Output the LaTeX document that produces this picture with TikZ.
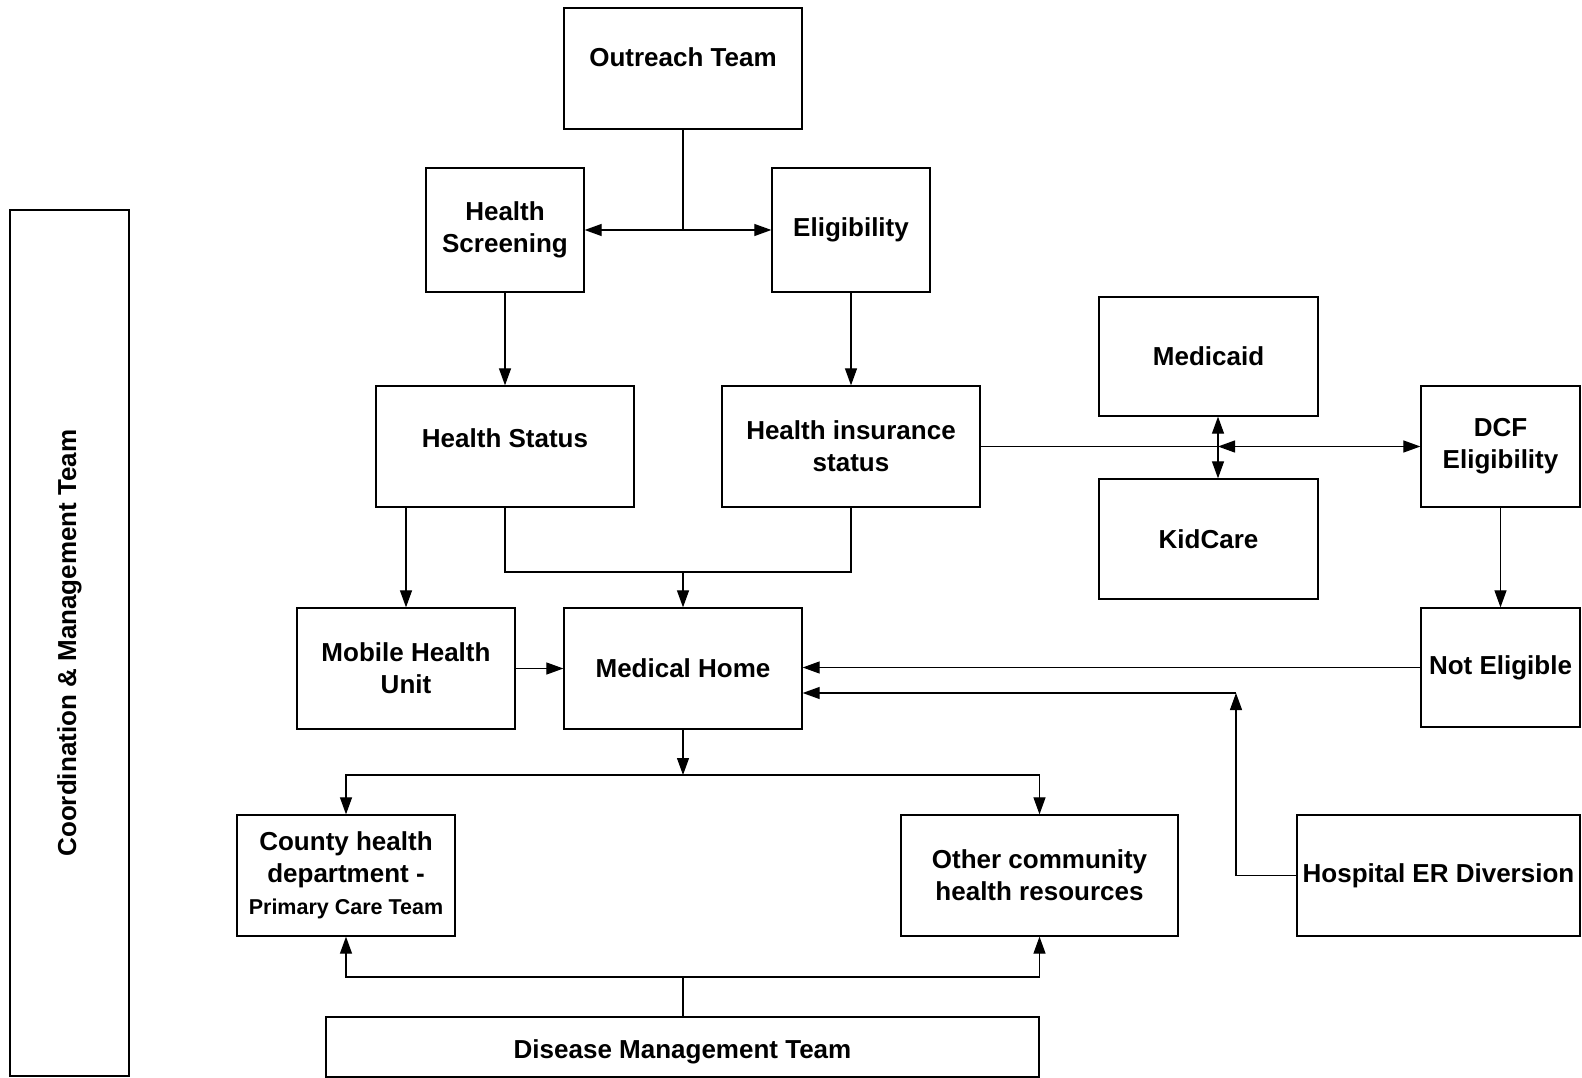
\documentclass[tikz,border=0pt]{standalone}
\usepackage{fontspec}
\setmainfont{Liberation Sans}
\usetikzlibrary{arrows.meta,positioning}
\tikzset{ftip/.tip={Triangle[length=17pt, width=12pt]}}

\begin{document}
\begin{tikzpicture}[
    x=1pt, y=-1pt,
    box/.style={rectangle, draw, line width=1.3pt, inner sep=2pt, align=center, font=\fontsize{26}{32}\selectfont\bfseries},
    line/.style={line width=1.2pt},
    arrow/.style={-ftip, line width=1.2pt},
    darrow/.style={ftip-ftip, line width=1.2pt}
]
\useasboundingbox (0,0) rectangle (1582,1078);

% Boxes
\node[box, minimum width=238pt, minimum height=121pt, text depth=22pt] (out) at (683,68.5) {Outreach Team};
\node[box, minimum width=158pt, minimum height=124pt] (hs) at (505,230) {Health\\Screening};
\node[box, minimum width=158pt, minimum height=124pt] (elig) at (851,230) {Eligibility};
\node[box, minimum width=258pt, minimum height=121pt, text depth=16pt] (hst) at (505,446.5) {Health Status};
\node[box, minimum width=258pt, minimum height=121pt] (hi) at (851,446.5) {Health insurance\\status};
\node[box, minimum width=219pt, minimum height=119pt] (mcd) at (1208.5,356.5) {Medicaid};
\node[box, minimum width=219pt, minimum height=120pt] (kid) at (1208.5,539) {KidCare};
\node[box, minimum width=159pt, minimum height=121pt] (dcf) at (1500.5,446.5) {DCF\\Eligibility};
\node[box, minimum width=218pt, minimum height=121pt] (mhu) at (406,668.5) {Mobile Health\\Unit};
\node[box, minimum width=238pt, minimum height=121pt] (mh) at (683,668.5) {Medical Home};
\node[box, minimum width=159pt, minimum height=119pt] (ne) at (1500.5,667.5) {Not Eligible};
\node[box, minimum width=218pt, minimum height=121pt] (cty) at (346,875.5) {County health\\department -\\{\fontsize{21.5}{26}\selectfont Primary Care Team}};
\node[box, minimum width=277pt, minimum height=121pt] (oth) at (1039.5,875.5) {Other community\\health resources};
\node[box, minimum width=283pt, minimum height=121pt] (er) at (1438.5,875.5) {Hospital ER Diversion};
\node[box, minimum width=713pt, minimum height=60pt, text height=29pt] (dmt) at (682.5,1047) {Disease Management Team};
\node[box, rotate=90, minimum width=866pt, minimum height=119pt] (cmt) at (69.5,643) {Coordination \& Management Team};

% Helper points
\coordinate (split) at (1218,446.5);
\coordinate (merge) at (683,572);
\coordinate (ercorner) at (1236,693);
\coordinate (fork) at (683,775);
\coordinate (join) at (683,977);

% Connectors
\draw[line] (out.south) -- (out.south |- hs.east);
\draw[darrow] (hs.east) -- (elig.west);
\draw[arrow] (hs.south) -- (hst.north);
\draw[arrow] (elig.south) -- (hi.north);
\draw[line] (hi.east) -- (split);
\draw[darrow] (split) -- (dcf.west);
\draw[darrow] (mcd.south -| split) -- (kid.north -| split);
\draw[arrow] (dcf.south) -- (ne.north);
\draw[arrow] (hst.south -| mhu.north) -- (mhu.north);
\draw[line] (hst.south) |- (merge) -| (hi.south);
\draw[arrow] (merge) -- (mh.north);
\draw[arrow] (mhu.east) -- (mh.west);
\draw[arrow] (ne.west) -- (ne.west -| mh.east);
\draw[arrow] (er.west) -| (ercorner);
\draw[arrow] (ercorner) -- (ercorner -| mh.east);
\draw[arrow] (mh.south) -- (fork);
\draw[arrow] (fork) -| (cty.north);
\draw[arrow] (fork) -| (oth.north);
\draw[line] (join |- dmt.north) -- (join);
\draw[arrow] (join) -| (cty.south);
\draw[arrow] (join) -| (oth.south);
\end{tikzpicture}
\end{document}
